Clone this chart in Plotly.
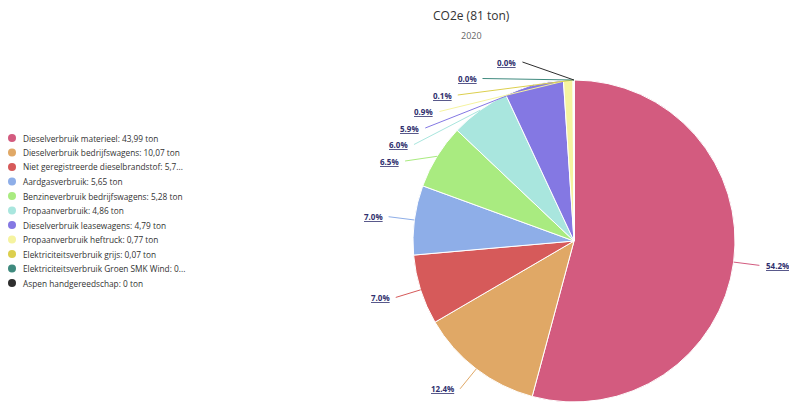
import math
import plotly.graph_objects as go

# ---------------- data ----------------
categories = [
    "Dieselverbruik materieel",
    "Dieselverbruik bedrijfswagens",
    "Niet geregistreerde dieselbrandstof",
    "Aardgasverbruik",
    "Benzineverbruik bedrijfswagens",
    "Propaanverbruik",
    "Dieselverbruik leasewagens",
    "Propaanverbruik heftruck",
    "Elektriciteitsverbruik grijs",
    "Elektriciteitsverbruik Groen SMK Wind",
    "Aspen handgereedschap",
]
values_ton = [43.99, 10.07, 5.70, 5.65, 5.28, 4.86, 4.79, 0.77, 0.07, 0.01, 0.0]
colors = ["#d35b7f", "#e0a866", "#d65a5a", "#8eaee8", "#a9eb80", "#a9e6de",
          "#8478e3", "#f5f3a0", "#dccf4e", "#3f8a7e", "#2e2e2e"]
title_text = "CO2e"
subtitle_text = "2020"
unit = "ton"

# ---------------- layout constants (pixels) ----------------
W, H = 789, 404
CX, CY, R = 574, 241, 161      # pie centre / radius
RL = 186                       # label radius
GAP = 16.5                     # min vertical spacing between labels
YTOP = 62


def px(x):
    return x / W


def py(y):
    return 1 - y / H


total = sum(values_ton)


def fmt(v):
    s = f"{v:.2f}".rstrip("0").rstrip(".")
    return s.replace(".", ",")


fig = go.Figure()

fig.add_trace(go.Pie(
    values=values_ton,
    labels=categories,
    marker=dict(colors=colors, line=dict(color="white", width=1)),
    sort=False,
    direction="clockwise",
    rotation=0,
    textinfo="none",
    hovertemplate="%{label}: %{value} ton<extra></extra>",
    showlegend=False,
    domain=dict(x=[px(CX - R), px(CX + R)], y=[py(CY + R), py(CY - R)]),
))

# ---------------- slice labels with connectors ----------------
annotations = []
shapes = []

cum = 0.0
items = []
for i, v in enumerate(values_ton):
    a0 = cum / total * 360
    cum += v
    a1 = cum / total * 360
    mid = (a0 + a1) / 2
    rad = math.radians(mid)
    ynat = CY - RL * math.cos(rad)
    right = math.sin(rad) > 1e-9 and mid < 180
    items.append(dict(i=i, mid=mid, rad=rad, ynat=ynat, right=right,
                      pct=v / total * 100))

left = sorted([it for it in items if not it["right"]], key=lambda d: (d["ynat"], -d["mid"]))
prev = None
for it in left:
    y = max(it["ynat"], YTOP)
    if prev is not None:
        y = max(y, prev + GAP)
    it["y"] = y
    prev = y
for it in items:
    if it["right"]:
        it["y"] = it["ynat"]

for it in items:
    y = it["y"]
    dy = min(abs(y - CY), RL - 1)
    dx = math.sqrt(RL ** 2 - dy ** 2)
    ex = CX + R * math.sin(it["rad"])
    ey = CY - R * math.cos(it["rad"])
    col = colors[it["i"]]
    if it["right"]:
        xl = CX + dx
        tx, anchor = xl + 6, "left"
        lx = xl + 1
    else:
        xl = CX - dx
        tx, anchor = xl - 5, "right"
        lx = xl - 1
    annotations.append(dict(
        x=px(tx), y=py(y), xref="paper", yref="paper",
        text=f"{it['pct']:.1f}%", showarrow=False,
        xanchor=anchor, yanchor="middle",
        font=dict(family="Open Sans", size=8, color="#30306e",
                  weight="bold", lineposition="under"),
    ))
    shapes.append(dict(
        type="path", xref="paper", yref="paper",
        path=f"M {px(lx)} {py(y)} L {px(ex)} {py(ey)}",
        line=dict(color=col, width=1),
    ))

# ---------------- legend (manual, circle markers) ----------------
LEG_X, LEG_Y0, LEG_DY = 12, 138, 14.5
for i, (name, v) in enumerate(zip(categories, values_ton)):
    s = f"{name}: {fmt(v)} {unit}"
    if len(s) > 40:
        s = s[:40] + "..."
    yy = LEG_Y0 + i * LEG_DY
    shapes.append(dict(
        type="circle", xref="paper", yref="paper",
        xsizemode="pixel", ysizemode="pixel",
        xanchor=px(LEG_X), yanchor=py(yy),
        x0=-4, x1=4, y0=-4, y1=4,
        fillcolor=colors[i], line=dict(width=0),
    ))
    annotations.append(dict(
        x=px(LEG_X + 9), y=py(yy), xref="paper", yref="paper",
        text=s, showarrow=False, xanchor="left", yanchor="middle",
        font=dict(family="Open Sans", size=8.3, color="#333333"),
    ))

# ---------------- titles ----------------
annotations.append(dict(
    x=px(471), y=py(15), xref="paper", yref="paper",
    text=f"{title_text} ({round(total)} {unit})", showarrow=False,
    xanchor="center", yanchor="middle",
    font=dict(family="Open Sans", size=12, color="#333333"),
))
annotations.append(dict(
    x=px(471), y=py(36), xref="paper", yref="paper",
    text=subtitle_text, showarrow=False,
    xanchor="center", yanchor="middle",
    font=dict(family="Open Sans", size=9, color="#666666"),
))

fig.update_layout(
    width=W, height=H,
    margin=dict(l=0, r=0, t=0, b=0),
    paper_bgcolor="white",
    plot_bgcolor="white",
    annotations=annotations,
    shapes=shapes,
    showlegend=False,
)

fig.write_html("out.html", config={"displayModeBar": False},
               post_script="document.body.style.margin='0';document.body.style.overflow='hidden';")
